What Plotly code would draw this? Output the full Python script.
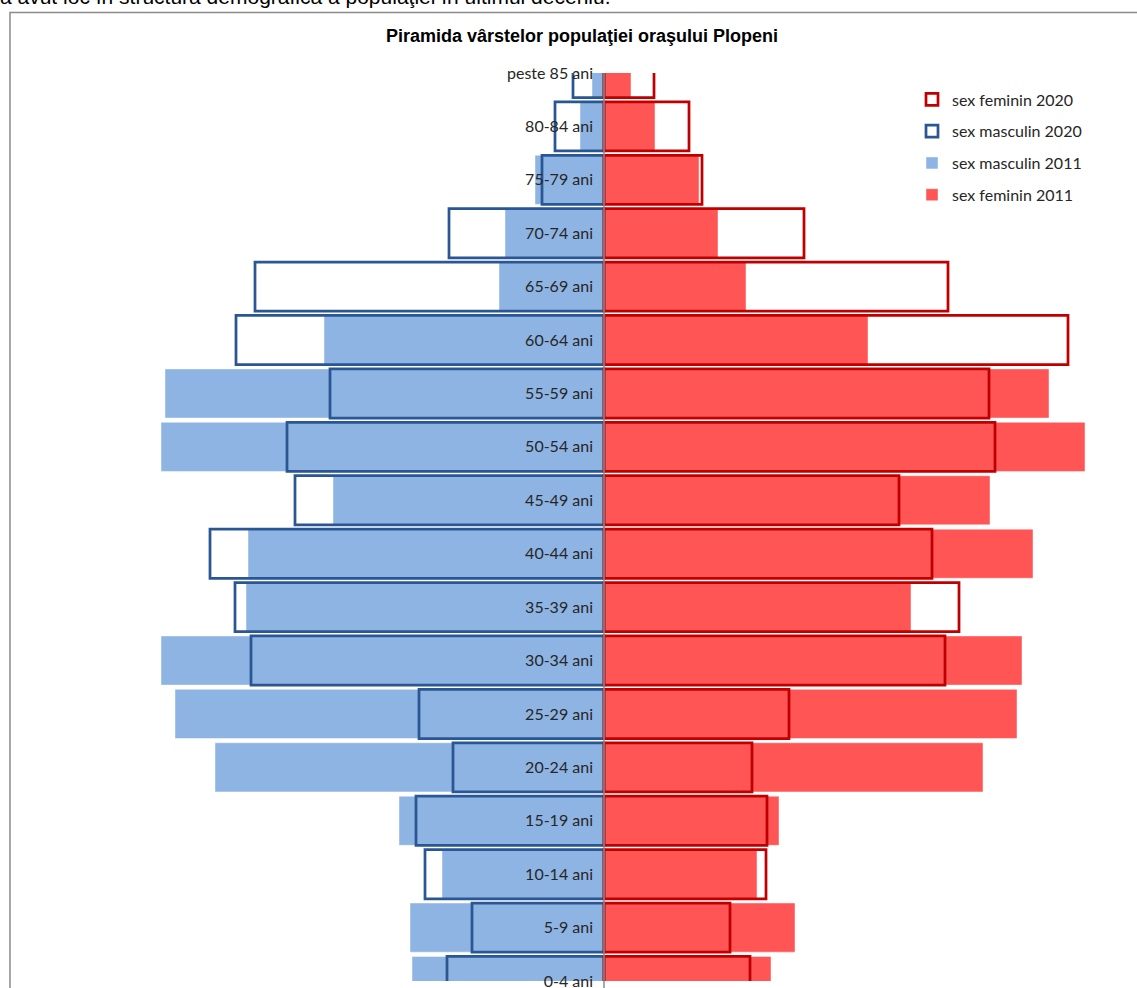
import plotly.graph_objects as go

# Age groups, youngest at the bottom of the pyramid
categories = [
    "0-4 ani", "5-9 ani", "10-14 ani", "15-19 ani", "20-24 ani", "25-29 ani",
    "30-34 ani", "35-39 ani", "40-44 ani", "45-49 ani", "50-54 ani", "55-59 ani",
    "60-64 ani", "65-69 ani", "70-74 ani", "75-79 ani", "80-84 ani", "peste 85 ani",
]

male_2011 = [192, 194, 162, 205, 389, 429, 443, 358, 356, 271, 443, 439, 280, 105, 99, 69, 24, 12]
male_2020 = [157, 132, 179, 188, 151, 185, 353, 369, 394, 309, 317, 274, 368, 349, 155, 62, 49, 31]
female_2011 = [167, 191, 153, 175, 379, 413, 418, 307, 429, 386, 481, 445, 264, 142, 114, 95, 51, 27]
female_2020 = [146, 126, 162, 163, 148, 185, 341, 355, 328, 295, 391, 385, 464, 344, 200, 98, 85, 50]

title_text = "Piramida vârstelor populaţiei oraşului Plopeni"
intro_text = "a avut loc în structura demografică a populaţiei în ultimul deceniu."

W, H = 1137, 988
ML, MR, MT, MB = 20, 10, 72.6, 6.8
PLOT_W = W - ML - MR
PLOT_H = H - MT - MB
CENTER_PX = 604


def xp(px):
    return (px - ML) / PLOT_W


def yp(py):
    return (H - MB - py) / PLOT_H


BLUE_FILL = "#8EB4E3"
RED_FILL = "#FF5555"
BLUE_LINE = "#2A5793"
RED_LINE = "#C00000"
BAR_W = 0.92
LABEL_FONT = "Lato, 'Open Sans', sans-serif"

fig = go.Figure()

fig.add_trace(go.Bar(
    name="sex masculin 2011", y=categories, x=[-v for v in male_2011],
    orientation="h", width=BAR_W, legendrank=3, legendgroup="m11",
    marker=dict(color=BLUE_FILL, line=dict(color="rgba(255,255,255,0.45)", width=1)),
    hoverinfo="skip",
))
fig.add_trace(go.Bar(
    name="sex feminin 2011", y=categories, x=female_2011,
    orientation="h", width=BAR_W, legendrank=4, legendgroup="f11",
    marker=dict(color=RED_FILL, line=dict(color="rgba(255,255,255,0.45)", width=1)),
    hoverinfo="skip",
))
fig.add_trace(go.Bar(
    name="sex masculin 2020", y=categories, x=[-v for v in male_2020],
    orientation="h", width=BAR_W, legendrank=2, legendgroup="m20",
    marker=dict(color="rgba(0,0,0,0)", line=dict(color=BLUE_LINE, width=2.75)),
    hoverinfo="skip",
))
fig.add_trace(go.Bar(
    name="sex feminin 2020", y=categories, x=female_2020,
    orientation="h", width=BAR_W, legendrank=1, legendgroup="f20",
    marker=dict(color="rgba(0,0,0,0)", line=dict(color=RED_LINE, width=2.75)),
    hoverinfo="skip",
))

fig.update_layout(
    template="none",
    width=W, height=H,
    margin=dict(l=ML, r=MR, t=MT, b=MB, pad=0, autoexpand=False),
    paper_bgcolor="white", plot_bgcolor="white",
    barmode="overlay",
    showlegend=True,
    legend=dict(
        x=xp(912), y=yp(82), xanchor="left", yanchor="top",
        font=dict(family=LABEL_FONT, size=16, color="#262626"),
        bgcolor="rgba(0,0,0,0)", tracegroupgap=8,
        traceorder="grouped",
    ),
    xaxis=dict(
        range=[-(CENTER_PX - ML), (W - MR) - CENTER_PX],
        visible=False, showgrid=False, zeroline=False, automargin=False,
    ),
    yaxis=dict(
        type="category", categoryorder="array", categoryarray=categories,
        range=[0, len(categories) - 1],
        anchor="free", position=xp(CENTER_PX), side="left",
        showline=False, showgrid=False, zeroline=False, ticks="",
        ticklabelstandoff=11, automargin=False,
        tickfont=dict(family=LABEL_FONT, size=16, color="#262626"),
    ),
    shapes=[
        # chart frame
        dict(type="rect", xref="paper", yref="paper",
             x0=xp(10), y0=yp(1000), x1=xp(1150), y1=yp(12),
             line=dict(color="#8A8A8A", width=1.5), layer="below"),
        # central axis line
        dict(type="line", xref="x", yref="paper",
             x0=0, x1=0, y0=1, y1=yp(992),
             line=dict(color="#8C8C8C", width=1.5), layer="above"),
    ],
    annotations=[
        dict(text="<b>" + title_text + "</b>", xref="paper", yref="paper",
             x=xp(582), y=yp(36), xanchor="center", yanchor="middle",
             showarrow=False,
             font=dict(family="Liberation Sans, Arial, sans-serif", size=18, color="black")),
        dict(text=intro_text, xref="paper", yref="paper",
             x=xp(-2), y=yp(-4), xanchor="left", yanchor="middle",
             showarrow=False,
             font=dict(family="Liberation Sans, Arial, sans-serif", size=21, color="black")),
    ],
)

fig.write_html("out.html")
